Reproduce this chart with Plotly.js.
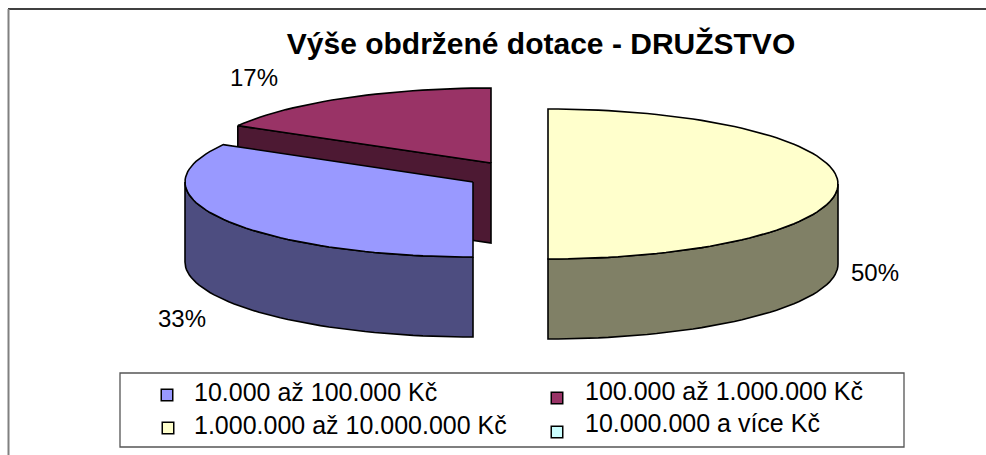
<!DOCTYPE html>
<html><head><meta charset="utf-8">
<script src="https://cdn.plot.ly/plotly-3.0.1.min.js"></script>
<style>html,body{margin:0;padding:0;background:#fff}#c{width:986px;height:455px}</style>
</head><body><div id="c"></div>
<script>
const categories = ["10.000 až 100.000 Kč","100.000 až 1.000.000 Kč","1.000.000 až 10.000.000 Kč","10.000.000 a více Kč"];
const shares = [33.3,16.7,50,0];
const topColors = ["#9999FF","#993366","#FFFFCC","#CCFFFF"];
const sideColors = ["#4D4D80","#4D1933","#808066","#668080"];

const startAngle = 180, ry = 75, depth = 80;
const radii = [288,292,290,290];
const centers = [[473,182],[491,163],[548,184],[548,184]];
const labelPos = [[182,318],[254,77],[875,272]];
const swatchPos = [[167,395],[557,398],[168,428],[557,432]];
const legendText = [[194,392],[585,391],[194,425],[585,423]];

function pt(c,r,deg,dy){const a=deg*Math.PI/180;return [c[0]+r*Math.sin(a), c[1]-ry*Math.cos(a)+(dy||0)];}
function poly(points,color,name){
  return {type:"scatter",mode:"lines",x:points.map(p=>p[0]),y:points.map(p=>p[1]),fill:"toself",fillcolor:color,
    line:{color:"#000",width:1.6},hoverinfo:"name",name:name,showlegend:false};
}
function arc(c,r,a0,a1,dy){const pts=[];const n=Math.max(2,Math.ceil(Math.abs(a1-a0)/2));for(let i=0;i<=n;i++)pts.push(pt(c,r,a0+(a1-a0)*i/n,dy));return pts;}

const total = shares.reduce((a,b)=>a+b,0);
let ang = startAngle;
const slices = shares.map((s,i)=>{const a0=ang;ang+=s/total*360;return {i,a0:a0%360,a1:a0%360+s/total*360};});

const traces=[];
function sliceTraces(sl){
  const c=centers[sl.i], r=radii[sl.i], name=categories[sl.i];
  const out=[];
  const e0=pt(c,r,sl.a0);
  if(sl.a0>270) out.push(poly([e0,c,[c[0],c[1]+depth],[e0[0],e0[1]+depth],e0],sideColors[sl.i],name));
  const lo=Math.max(sl.a0,90), hi=Math.min(sl.a1,270);
  if(hi>lo){
    const wallTop=arc(c,r,lo,hi), wallBot=arc(c,r,hi,lo,depth);
    out.push(poly(wallTop.concat(wallBot,[wallTop[0]]),sideColors[sl.i],name));
  }
  out.push(poly([c].concat(arc(c,r,sl.a0,sl.a1),[c]),topColors[sl.i],name));
  return out;
}
[1,0,2].forEach(i=>traces.push(...sliceTraces(slices[i])));

traces.push({type:"scatter",mode:"markers",x:swatchPos.map(p=>p[0]),y:swatchPos.map(p=>p[1]),text:categories,hoverinfo:"text",
  marker:{symbol:"square",size:11.5,color:topColors,line:{color:"#000",width:1.5}},showlegend:false});

const font={family:"Liberation Sans, Arial, sans-serif",color:"#000"};
const annotations=[];
shares.forEach((s,i)=>{ if(s>0) annotations.push({x:labelPos[i][0],y:labelPos[i][1],xref:"x",yref:"y",text:Math.round(s)+"%",showarrow:false,
  font:{...font,size:24},xanchor:"center",yanchor:"middle"});});
categories.forEach((t,i)=>annotations.push({x:legendText[i][0],y:legendText[i][1],xref:"x",yref:"y",text:t,showarrow:false,
  font:{...font,size:25},xanchor:"left",yanchor:"middle",xshift:-2}));

const layout={
  width:986,height:455,margin:{l:0,r:0,t:0,b:0},paper_bgcolor:"#fff",plot_bgcolor:"#fff",showlegend:false,
  title:{text:"Výše obdržené dotace - DRUŽSTVO",font:{...font,size:30,weight:700},x:541/986,xanchor:"center",y:1-43/455,yanchor:"middle"},
  xaxis:{range:[0,986],visible:false,fixedrange:true},
  yaxis:{range:[455,0],visible:false,fixedrange:true},
  annotations,
  shapes:[
    {type:"line",xref:"x",yref:"y",x0:8,y0:9,x1:986,y1:9,line:{color:"#000",width:1.5}},
    {type:"line",xref:"x",yref:"y",x0:8.5,y0:9,x1:8.5,y1:455,line:{color:"#808080",width:2}},
    {type:"rect",xref:"x",yref:"y",x0:120,y0:373,x1:904,y1:447,line:{color:"#555",width:1.3},fillcolor:"#fff",layer:"below"}
  ]
};
Plotly.newPlot("c",traces,layout,{displayModeBar:false,responsive:false});
</script></body></html>
